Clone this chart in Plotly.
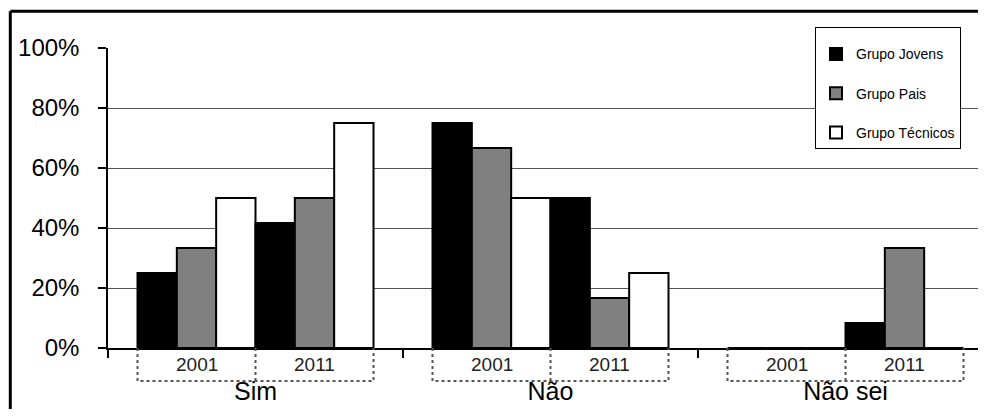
import plotly.graph_objects as go

# ---- data ----
categories = ["Sim", "Não", "Não sei"]
years = ["2001", "2011"]
groups = ["Grupo Jovens", "Grupo Pais", "Grupo Técnicos"]

jovens_2001 = [25.0, 75.0, 0.0]
pais_2001 = [33.3, 66.7, 0.0]
tecnicos_2001 = [50.0, 50.0, 0.0]
jovens_2011 = [41.7, 50.0, 8.3]
pais_2011 = [50.0, 16.7, 33.3]
tecnicos_2011 = [75.0, 25.0, 0.0]

y_ticks = [0, 20, 40, 60, 80, 100]
y_tick_labels = ["0%", "20%", "40%", "60%", "80%", "100%"]

# ---- style ----
FONT = "Liberation Sans, Arial, sans-serif"
colors = ["#000000", "#808080", "#ffffff"]
OFF = 8  # page body margin
W, H = 970, 401
ML, MT, MB = 100, 40, 61
PW, PH = W - ML, H - MT - MB
CAT_PX = 295.0


def px_x(x):
    # page pixel -> paper coordinate
    return (x - OFF - ML) / PW


def px_y(y):
    return (H - MB - (y - OFF)) / PH


series = {
    "2001": [jovens_2001, pais_2001, tecnicos_2001],
    "2011": [jovens_2011, pais_2011, tecnicos_2011],
}

fig = go.Figure()
for year in years:
    for g, vals, col in zip(groups, series[year], colors):
        fig.add_trace(go.Bar(
            x=categories, y=vals, name=g,
            legendgroup=g, showlegend=(year == years[0]),
            marker=dict(color=col, line=dict(color="#000000", width=2)),
            hovertemplate=f"{g} {year}<br>%{{x}}: %{{y}}%<extra></extra>",
        ))

shapes = []
annotations = []
box_h = 0.11
for i, _ in enumerate(categories):
    x0, xm, x1 = i - 0.4, i, i + 0.4
    shapes.append(dict(
        type="path", xref="x", yref="paper",
        path=f"M {x0},0 L {x0},{-box_h} L {x1},{-box_h} L {x1},0",
        line=dict(color="#555555", width=2, dash="dot"),
    ))
    shapes.append(dict(
        type="line", xref="x", yref="paper", x0=xm, x1=xm, y0=0, y1=-box_h,
        line=dict(color="#555555", width=2, dash="dot"),
    ))
    for k, year in enumerate(years):
        annotations.append(dict(
            x=i + (-0.2 if k == 0 else 0.2), xref="x",
            y=-0.055, yref="paper", text=year, showarrow=False,
            font=dict(family=FONT, size=19, color="#222222"),
            xanchor="center", yanchor="middle",
        ))

# chart frame (left and top edges visible)
shapes.append(dict(type="line", xref="paper", yref="paper",
                   x0=px_x(10.3), x1=px_x(10.3), y0=px_y(11.3), y1=px_y(440),
                   line=dict(color="#000000", width=3)))
shapes.append(dict(type="line", xref="paper", yref="paper",
                   x0=px_x(10.3), x1=px_x(1010), y0=px_y(11.3), y1=px_y(11.3),
                   line=dict(color="#000000", width=3)))

fig.update_layout(
    width=W, height=H,
    margin=dict(l=ML, r=0, t=MT, b=MB, pad=0),
    paper_bgcolor="#ffffff", plot_bgcolor="#ffffff",
    barmode="group", bargap=0.2, bargroupgap=0,
    font=dict(family=FONT, color="#000000"),
    showlegend=True,
    legend=dict(
        x=px_x(815), y=px_y(27), xanchor="left", yanchor="top",
        bordercolor="#000000", borderwidth=1, bgcolor="#ffffff",
        font=dict(family=FONT, size=14, color="#000000"),
        traceorder="grouped", tracegroupgap=18,
        title=dict(text=" ", font=dict(size=8)),
    ),
    xaxis=dict(
        range=[-0.5, -0.5 + PW / CAT_PX],
        showline=True, linecolor="#000000", linewidth=2,
        ticks="outside", tickson="boundaries", ticklen=8, tickcolor="#000000", tickwidth=1.5,
        showgrid=False, tickfont=dict(family=FONT, size=25, color="#000000"),
        ticklabelstandoff=20,
    ),
    yaxis=dict(
        range=[0, 100], tickmode="array", tickvals=y_ticks, ticktext=y_tick_labels,
        showline=True, linecolor="#000000", linewidth=1.5,
        ticks="outside", ticklen=8, tickcolor="#000000", tickwidth=1.5,
        showgrid=True, gridcolor="#555555", gridwidth=1,
        zeroline=False,
        tickfont=dict(family=FONT, size=24, color="#000000"),
        ticklabelstandoff=14,
    ),
    shapes=shapes,
    annotations=annotations,
)

fig.write_html("out.html")
